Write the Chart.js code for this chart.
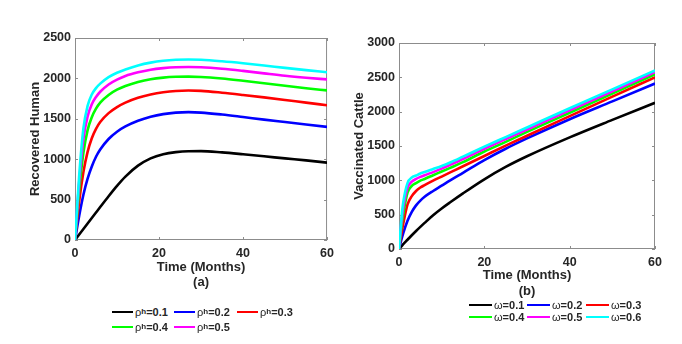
<!DOCTYPE html>
<html>
<head>
<meta charset="utf-8">
<script src="https://cdn.jsdelivr.net/npm/chart.js@4.4.1/dist/chart.umd.min.js"></script>
<style>
  body { margin: 0; background: #fff; width: 682px; height: 344px; overflow: hidden; position: relative; font-family: "Liberation Sans", Arial, sans-serif; }
  canvas { position: absolute; top: 0; }
  #chartA { left: 0; }
  #chartB { left: 340px; }
  .leg { position: absolute; height: 12px; display: flex; align-items: center; font-size: 11px; font-weight: bold; color: #262626; white-space: nowrap; }
  .leg span.line { display: inline-block; height: 2.5px; margin-right: 2px; }
  .leg i { font-style: normal; font-weight: normal; }
  .leg sub { font-size: 8px; vertical-align: -2px; line-height: 0; }
</style>
</head>
<body>
<canvas id="chartA" width="340" height="300"></canvas>
<canvas id="chartB" width="342" height="310"></canvas>
<div id="legendA"></div>
<div id="legendB"></div>
<script>
// ===================== DATA ===================== //
const colors = ["#000000", "#0000ff", "#ff0000", "#00ff00", "#ff00ff", "#00ffff"];

// (a) Recovered Human, one curve per rho_h
const rhoValues = ["0.1", "0.2", "0.3", "0.4", "0.5", "0.6"];
const timeA = [0, 1, 2, 3, 4, 5, 6, 8, 10, 12, 15, 18, 21, 24, 27, 30, 35, 40, 45, 50, 55, 60];
const humanRho1 = [0, 68, 136, 204, 272, 340, 408, 542, 670, 785, 920, 1010, 1062, 1088, 1099, 1100, 1084, 1061, 1036, 1010, 985, 958];
const humanRho2 = [0, 300, 560, 760, 910, 1030, 1120, 1250, 1340, 1405, 1475, 1525, 1558, 1576, 1582, 1577, 1553, 1522, 1490, 1460, 1430, 1400];
const humanRho3 = [0, 480, 840, 1090, 1260, 1375, 1460, 1570, 1645, 1700, 1760, 1800, 1828, 1845, 1850, 1846, 1823, 1795, 1765, 1733, 1700, 1668];
const humanRho4 = [0, 620, 1080, 1360, 1520, 1625, 1700, 1795, 1860, 1905, 1955, 1990, 2010, 2020, 2022, 2018, 1998, 1970, 1940, 1908, 1878, 1852];
const humanRho5 = [0, 720, 1250, 1530, 1680, 1770, 1835, 1925, 1985, 2030, 2075, 2108, 2127, 2138, 2141, 2138, 2120, 2093, 2062, 2032, 2008, 1988];
const humanRho6 = [0, 800, 1380, 1660, 1800, 1880, 1935, 2015, 2070, 2110, 2160, 2195, 2218, 2230, 2233, 2230, 2212, 2188, 2160, 2130, 2102, 2076];

// (b) Vaccinated Cattle, one curve per omega
const omegaValues = ["0.1", "0.2", "0.3", "0.4", "0.5", "0.6"];
const timeB = [0, 0.5, 1, 2, 3, 4, 5, 6, 8, 10, 12, 15, 20, 25, 30, 40, 50, 60];
const cattleW1 = [0, 35, 70, 135, 200, 262, 322, 380, 492, 590, 680, 810, 1015, 1195, 1350, 1625, 1880, 2130];
const cattleW2 = [0, 120, 230, 410, 540, 635, 705, 760, 845, 922, 1000, 1110, 1295, 1460, 1610, 1890, 2150, 2410];
const cattleW3 = [0, 200, 370, 650, 770, 845, 895, 930, 995, 1055, 1115, 1205, 1355, 1505, 1650, 1935, 2220, 2500];
const cattleW4 = [0, 290, 510, 820, 920, 960, 995, 1020, 1075, 1128, 1182, 1265, 1420, 1560, 1705, 1985, 2265, 2545];
const cattleW5 = [0, 350, 600, 890, 980, 1020, 1050, 1075, 1120, 1170, 1225, 1310, 1460, 1600, 1740, 2020, 2295, 2575];
const cattleW6 = [0, 400, 680, 960, 1040, 1070, 1100, 1120, 1165, 1210, 1260, 1345, 1490, 1630, 1770, 2050, 2325, 2600];

const xTicks = [0, 20, 40, 60];
const yTicksA = [0, 500, 1000, 1500, 2000, 2500];
const yTicksB = [0, 500, 1000, 1500, 2000, 2500, 3000];

// ===================== HELPERS ===================== //
const FONT = "Liberation Sans";
const TEXT = "#262626";

function makeSets(time, series) {
    return series.map((vals, i) => ({
        data: vals.map((v, k) => ({ x: time[k], y: v })),
        borderColor: colors[i],
        borderWidth: 2.6,
        pointRadius: 0,
        cubicInterpolationMode: "monotone",
        order: series.length - i
    }));
}

// box around the plot with small inward ticks (matlab style)
const boxPlugin = {
    id: "box",
    beforeDatasetsDraw(chart) {
        const { ctx, chartArea: a, scales: { x, y } } = chart;
        ctx.save();
        ctx.strokeStyle = "#8c8c8c";
        ctx.lineWidth = 1;
        ctx.strokeRect(a.left + 0.5, a.top + 0.5, a.width - 1, a.height - 1);
        ctx.beginPath();
        x.ticks.forEach(t => {
            const px = Math.round(x.getPixelForValue(t.value)) + 0.5;
            ctx.moveTo(px, a.bottom); ctx.lineTo(px, a.bottom - 3);
            ctx.moveTo(px, a.top); ctx.lineTo(px, a.top + 3);
        });
        y.ticks.forEach(t => {
            const py = Math.round(y.getPixelForValue(t.value)) + 0.5;
            ctx.moveTo(a.left, py); ctx.lineTo(a.left + 3, py);
            ctx.moveTo(a.right, py); ctx.lineTo(a.right - 3, py);
        });
        ctx.stroke();
        ctx.restore();
    }
};

function makeChart(id, o) {
    return new Chart(document.getElementById(id), {
        type: "line",
        data: { datasets: makeSets(o.time, o.series) },
        options: {
            responsive: false,
            animation: false,
            layout: { padding: { top: o.top, right: o.right, left: 0, bottom: 0 } },
            plugins: { legend: { display: false }, tooltip: { enabled: false } },
            scales: {
                x: {
                    type: "linear", min: 0, max: 60,
                    afterBuildTicks: s => { s.ticks = xTicks.map(v => ({ value: v })); },
                    afterFit: s => { s.height = o.xHeight; },
                    grid: { display: false, drawTicks: false }, border: { display: false },
                    ticks: { padding: 6, maxRotation: 0, color: TEXT, font: { family: FONT, size: 12.5, weight: "bold" },
                             callback: v => String(v) },
                    title: {
                        display: true, text: ["Time (Months)", o.tag], color: TEXT,
                        font: { family: FONT, size: 13, weight: "bold", lineHeight: o.titleLH },
                        padding: { top: 0, bottom: o.titlePad }
                    }
                },
                y: {
                    min: 0, max: o.yTicks[o.yTicks.length - 1],
                    afterBuildTicks: s => { s.ticks = o.yTicks.map(v => ({ value: v })); },
                    afterFit: s => { s.width = o.yWidth; },
                    grid: { display: false, drawTicks: false }, border: { display: false },
                    ticks: { padding: 4, color: TEXT, font: { family: FONT, size: 12.5, weight: "bold" },
                             callback: v => String(v) },
                    title: {
                        display: true, text: o.yTitle, color: TEXT,
                        font: { family: FONT, size: 13, weight: "bold", lineHeight: 1.2 },
                        padding: { top: o.yTitlePad, bottom: 0 }
                    }
                }
            }
        },
        plugins: [boxPlugin]
    });
}

// ===================== CHARTS ===================== //
makeChart("chartA", {
    time: timeA,
    series: [humanRho1, humanRho2, humanRho3, humanRho4, humanRho5, humanRho6],
    yTicks: yTicksA, yTitle: "Recovered Human", tag: "(a)",
    top: 38, right: 9, yWidth: 75, xHeight: 60,
    titleLH: 1.154, titlePad: 10.5, yTitlePad: 27.2
});

makeChart("chartB", {
    time: timeB,
    series: [cattleW1, cattleW2, cattleW3, cattleW4, cattleW5, cattleW6],
    yTicks: yTicksB, yTitle: "Vaccinated Cattle", tag: "(b)",
    top: 43, right: 27, yWidth: 59, xHeight: 61,
    titleLH: 1.23, titlePad: 11, yTitlePad: 11.2
});

// ===================== LEGENDS ===================== //
function buildLegend(id, items, cols, rows, lineLen) {
    const box = document.getElementById(id);
    items.forEach((html, i) => {
        const d = document.createElement("div");
        d.className = "leg";
        d.style.left = cols[i % 3] + "px";
        d.style.top = (rows[Math.floor(i / 3)] - 6) + "px";
        d.innerHTML = `<span class="line" style="width:${lineLen}px;background:${colors[i]}"></span>${html}`;
        box.appendChild(d);
    });
}

// panel (a) legend only lists the first five rho values
buildLegend("legendA",
    rhoValues.slice(0, 5).map(v => `<i>ρ</i><sub>h</sub>=${v}`),
    [112, 174, 237], [312, 327], 21);

buildLegend("legendB",
    omegaValues.map(v => `<i>ω</i>=${v}`),
    [469, 527, 586], [305, 317], 23);
</script>
</body>
</html>
